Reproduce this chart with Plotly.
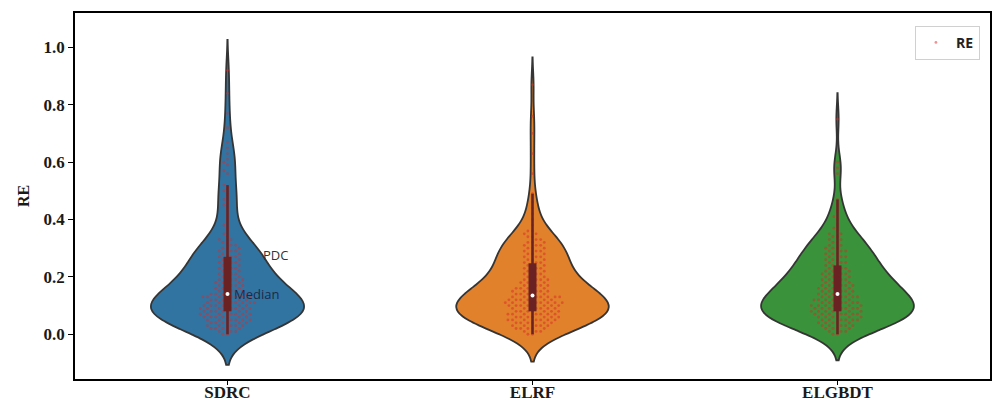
import numpy as np
import plotly.graph_objects as go

# Relative error (RE) of each model, rounded to 0.01
models = ["SDRC", "ELRF", "ELGBDT"]

re_sdrc = [
    0.00, 0.00, 0.01, 0.01, 0.01, 0.02, 0.02, 0.02, 0.02, 0.02, 0.03, 0.03, 0.03, 0.03, 0.03,
    0.04, 0.04, 0.04, 0.04, 0.04, 0.04, 0.05, 0.05, 0.05, 0.05, 0.05, 0.05,
    0.06, 0.06, 0.06, 0.06, 0.06, 0.06, 0.06, 0.07, 0.07, 0.07, 0.07, 0.07, 0.07, 0.07,
    0.08, 0.08, 0.08, 0.08, 0.08, 0.08, 0.08, 0.09, 0.09, 0.09, 0.09, 0.09, 0.09, 0.09,
    0.10, 0.10, 0.10, 0.10, 0.10, 0.10, 0.10, 0.11, 0.11, 0.11, 0.11, 0.11, 0.11, 0.11,
    0.12, 0.12, 0.12, 0.12, 0.12, 0.12, 0.13, 0.13, 0.13, 0.13, 0.13, 0.13, 0.13,
    0.14, 0.14, 0.14, 0.14, 0.14, 0.14, 0.15, 0.15, 0.15, 0.15, 0.16, 0.16, 0.16, 0.16,
    0.17, 0.17, 0.17, 0.17, 0.18, 0.18, 0.18, 0.18, 0.19, 0.19, 0.19, 0.19,
    0.20, 0.20, 0.20, 0.21, 0.21, 0.21, 0.22, 0.22, 0.22, 0.23, 0.23, 0.23,
    0.24, 0.24, 0.24, 0.25, 0.25, 0.25, 0.26, 0.26, 0.26, 0.27, 0.27, 0.27,
    0.28, 0.28, 0.28, 0.29, 0.29, 0.29, 0.30, 0.30, 0.30, 0.31, 0.31, 0.32, 0.32,
    0.33, 0.33, 0.34, 0.35, 0.37, 0.38, 0.40, 0.42, 0.44, 0.45, 0.46, 0.47, 0.49,
    0.50, 0.51, 0.52,
    0.56, 0.57, 0.59, 0.60, 0.61, 0.63, 0.65, 0.67, 0.72, 0.77, 0.84, 0.92,
]

re_elrf = [
    0.00, 0.00, 0.01, 0.01, 0.01, 0.02, 0.02, 0.02, 0.02, 0.02, 0.03, 0.03, 0.03, 0.03, 0.03,
    0.04, 0.04, 0.04, 0.04, 0.04, 0.04, 0.05, 0.05, 0.05, 0.05, 0.05, 0.05, 0.05,
    0.06, 0.06, 0.06, 0.06, 0.06, 0.06, 0.06, 0.07, 0.07, 0.07, 0.07, 0.07, 0.07, 0.07,
    0.08, 0.08, 0.08, 0.08, 0.08, 0.08, 0.08, 0.09, 0.09, 0.09, 0.09, 0.09, 0.09,
    0.10, 0.10, 0.10, 0.10, 0.10, 0.10, 0.10, 0.10, 0.11, 0.11, 0.11, 0.11, 0.11, 0.11, 0.11, 0.11,
    0.12, 0.12, 0.12, 0.12, 0.12, 0.12, 0.12, 0.13, 0.13, 0.13, 0.13, 0.13, 0.13, 0.13,
    0.14, 0.14, 0.14, 0.14, 0.14, 0.15, 0.15, 0.15, 0.15, 0.15, 0.16, 0.16, 0.16, 0.16, 0.16,
    0.17, 0.17, 0.17, 0.17, 0.18, 0.18, 0.18, 0.18, 0.19, 0.19, 0.19, 0.19,
    0.20, 0.20, 0.20, 0.21, 0.21, 0.21, 0.22, 0.22, 0.22, 0.23, 0.23, 0.23,
    0.24, 0.24, 0.24, 0.25, 0.25, 0.25, 0.26, 0.26, 0.26, 0.27, 0.27, 0.27,
    0.28, 0.28, 0.28, 0.29, 0.29, 0.29, 0.30, 0.30, 0.30, 0.31, 0.31, 0.31, 0.32, 0.32, 0.32,
    0.33, 0.33, 0.34, 0.34, 0.35, 0.35, 0.36, 0.36, 0.38, 0.40, 0.42, 0.44, 0.46, 0.49,
    0.56, 0.63, 0.70, 0.76, 0.87,
]

re_elgbdt = [
    0.00, 0.00, 0.01, 0.01, 0.01, 0.02, 0.02, 0.02, 0.02, 0.03, 0.03, 0.03, 0.03, 0.03,
    0.04, 0.04, 0.04, 0.04, 0.04, 0.05, 0.05, 0.05, 0.05, 0.05, 0.05,
    0.06, 0.06, 0.06, 0.06, 0.06, 0.06, 0.07, 0.07, 0.07, 0.07, 0.07, 0.07, 0.07,
    0.08, 0.08, 0.08, 0.08, 0.08, 0.08, 0.08, 0.09, 0.09, 0.09, 0.09, 0.09, 0.09, 0.09,
    0.10, 0.10, 0.10, 0.10, 0.10, 0.10, 0.10, 0.11, 0.11, 0.11, 0.11, 0.11, 0.11,
    0.12, 0.12, 0.12, 0.12, 0.12, 0.12, 0.13, 0.13, 0.13, 0.13, 0.13, 0.13,
    0.14, 0.14, 0.14, 0.14, 0.14, 0.15, 0.15, 0.15, 0.15, 0.15, 0.16, 0.16, 0.16, 0.16, 0.16,
    0.17, 0.17, 0.17, 0.17, 0.17, 0.18, 0.18, 0.18, 0.18, 0.19, 0.19, 0.19, 0.19,
    0.20, 0.20, 0.20, 0.20, 0.21, 0.21, 0.21, 0.21, 0.22, 0.22, 0.22, 0.22,
    0.23, 0.23, 0.23, 0.24, 0.24, 0.24, 0.25, 0.25, 0.25, 0.26, 0.26, 0.26,
    0.27, 0.27, 0.27, 0.28, 0.28, 0.28, 0.29, 0.29, 0.29, 0.30, 0.30, 0.30,
    0.31, 0.31, 0.32, 0.32, 0.33, 0.33, 0.34, 0.34, 0.35, 0.35,
    0.36, 0.37, 0.38, 0.40, 0.41, 0.43, 0.45, 0.47,
    0.56, 0.58, 0.60, 0.75,
]

series = [re_sdrc, re_elrf, re_elgbdt]
violin_colors = ["#3274a1", "#e1812c", "#3a923a"]
y_ticks = [0.0, 0.2, 0.4, 0.6, 0.8, 1.0]

# Axis extents and the plot-area size in pixels (used to lay out the swarm)
X_RANGE = [-0.5, 2.5]
Y_RANGE = [-0.156, 1.12]
M_L, M_R, M_T, M_B = 75, 3, 13, 24
W, H = 993, 403
px_per_x = (W - M_L - M_R) / (X_RANGE[1] - X_RANGE[0])
px_per_y = (H - M_T - M_B) / (Y_RANGE[1] - Y_RANGE[0])

BOX_COLOR = "#6b2222"
DOT_DIAM = 4.6  # collision diameter of swarm dots, in pixels


def swarm_offsets(vals, diam):
    """Beeswarm layout: shift each point sideways so dots do not overlap."""
    vals = np.asarray(vals, dtype=float)
    order = np.argsort(vals, kind="stable")
    placed = []
    out = np.zeros(len(vals))
    for i in order:
        y = vals[i] * px_per_y
        neigh = [(px, py) for px, py in placed if abs(py - y) < diam]
        cands = [0.0]
        for px, py in neigh:
            dx = np.sqrt(max(diam ** 2 - (py - y) ** 2, 0.0))
            cands += [px + dx, px - dx]
        cands.sort(key=lambda c: (abs(c), c))
        chosen = cands[-1]
        for c in cands:
            if all((c - px) ** 2 + (y - py) ** 2 >= diam ** 2 - 1e-6 for px, py in neigh):
                chosen = c
                break
        placed.append((chosen, y))
        out[i] = chosen / px_per_x
    return out


fig = go.Figure()

for i, (name, vals, col) in enumerate(zip(models, series, violin_colors)):
    vals = np.asarray(vals, dtype=float)
    fig.add_trace(go.Violin(
        y=vals, x0=i, name=name, fillcolor=col, opacity=1,
        line=dict(color="#353535", width=1.8),
        points=False, box_visible=False, meanline_visible=False,
        width=0.5, scalemode="width", spanmode="soft",
        showlegend=False, hoverinfo="skip",
    ))

for i, vals in enumerate(series):
    vals = np.asarray(vals, dtype=float)
    offs = swarm_offsets(vals, DOT_DIAM)
    fig.add_trace(go.Scatter(
        x=i + offs, y=vals, mode="markers", name="RE",
        marker=dict(color="rgba(220,40,40,0.5)", size=2.8, line=dict(width=0)),
        showlegend=(i == 0), hoverinfo="skip",
    ))

for i, vals in enumerate(series):
    vals = np.asarray(vals, dtype=float)
    q1, med, q3 = np.percentile(vals, [25, 50, 75])
    iqr = q3 - q1
    lo = vals[vals >= q1 - 1.5 * iqr].min()
    hi = vals[vals <= q3 + 1.5 * iqr].max()
    fig.add_trace(go.Scatter(
        x=[i, i], y=[lo, hi], mode="lines",
        line=dict(color=BOX_COLOR, width=2.6), showlegend=False, hoverinfo="skip",
    ))
    fig.add_trace(go.Scatter(
        x=[i, i], y=[q1, q3], mode="lines",
        line=dict(color=BOX_COLOR, width=8), showlegend=False, hoverinfo="skip",
    ))
    fig.add_trace(go.Scatter(
        x=[i], y=[med], mode="markers",
        marker=dict(color="white", size=4), showlegend=False, hoverinfo="skip",
    ))

# Labels pointing out the violin outline and the median marker
sdrc_median = float(np.percentile(re_sdrc, 50))
fig.add_annotation(x=0.11, y=0.275, text="PDC", showarrow=False, xanchor="left",
                   font=dict(family="Open Sans", size=13, color="#333333"))
fig.add_annotation(x=0.015, y=sdrc_median, text="Median", showarrow=False, xanchor="left",
                   font=dict(family="Open Sans", size=13, color="#1b2a48"))

serif = "Liberation Serif"
fig.update_layout(
    width=W, height=H,
    margin=dict(l=M_L, r=M_R, t=M_T, b=M_B),
    paper_bgcolor="white", plot_bgcolor="white",
    showlegend=True,
    legend=dict(x=0.989, y=0.965, xanchor="right", yanchor="top",
                bgcolor="white", bordercolor="#d0d0d0", borderwidth=1,
                font=dict(family="Open Sans", size=14, color="#222222", weight="bold")),
    xaxis=dict(
        type="linear", range=X_RANGE, tickmode="array",
        tickvals=list(range(len(models))), ticktext=models,
        showgrid=False, zeroline=False, showline=True, mirror=True,
        linecolor="black", linewidth=1.6, ticks="outside", ticklen=4,
        tickcolor="black", automargin=False, ticklabelstandoff=-7,
        tickfont=dict(family=serif, size=17, color="#1a1a1a", weight="bold"),
    ),
    yaxis=dict(
        range=Y_RANGE, tickmode="array", tickvals=y_ticks,
        ticktext=[f"{v:.1f}" for v in y_ticks],
        showgrid=False, zeroline=False, showline=True, mirror=True,
        linecolor="black", linewidth=1.6, ticks="outside", ticklen=5,
        tickcolor="black", automargin=False,
        tickfont=dict(family=serif, size=17, color="#1a1a1a", weight="bold"),
        title=dict(text="RE", standoff=10,
                   font=dict(family=serif, size=16, color="#1a1a1a", weight="bold")),
    ),
)

fig.write_html("out.html")
